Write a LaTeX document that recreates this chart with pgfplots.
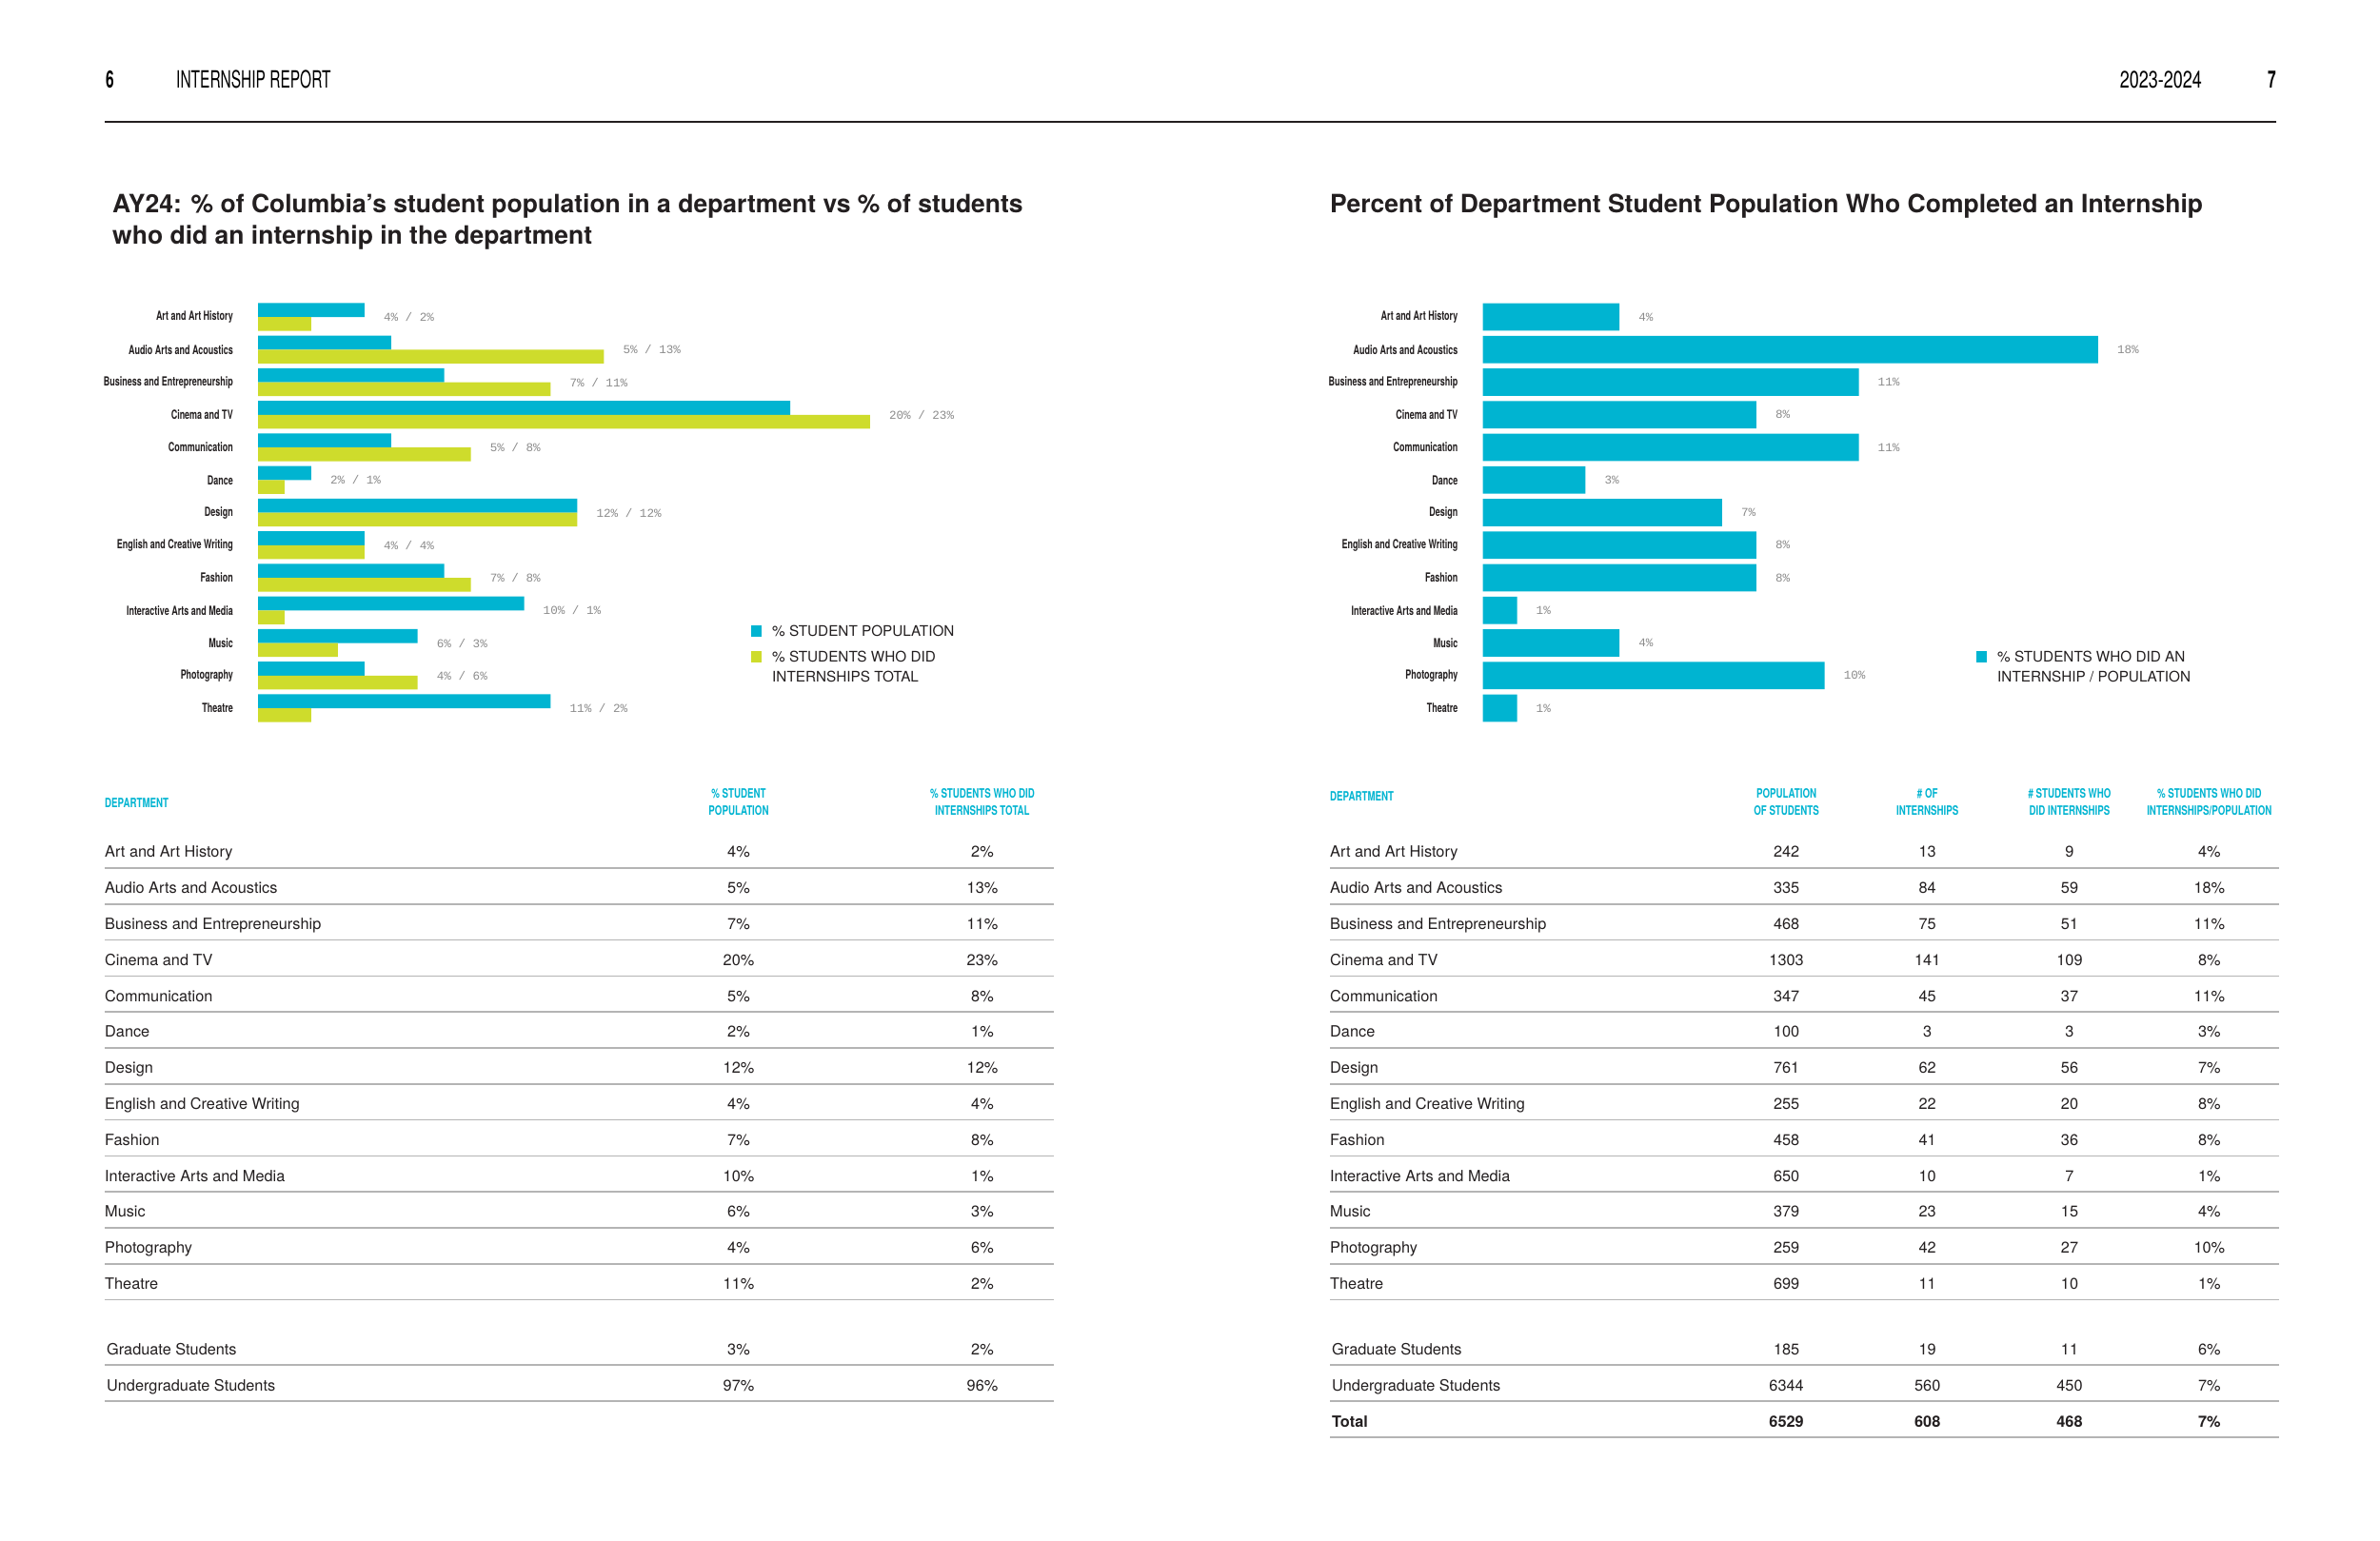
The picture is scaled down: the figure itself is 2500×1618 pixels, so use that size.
\documentclass[border=0pt]{standalone}
\usepackage{fontspec}
\setmainfont{TeX Gyre Heros}
\newfontfamily\cond{TeX Gyre Heros}[FakeStretch=0.72]
\newfontfamily\condlab{TeX Gyre Heros}[FakeStretch=0.68]
\newfontfamily\condhead{TeX Gyre Heros}[FakeStretch=0.62]
\setmonofont{Liberation Mono}
\usepackage{pgfplots}
\pgfplotsset{compat=1.18}

\definecolor{cy}{HTML}{00B4D1}
\definecolor{yg}{HTML}{CEDC2C}
\definecolor{ink}{HTML}{231F20}
\definecolor{labgray}{HTML}{8C8C8C}
\definecolor{rulegray}{HTML}{B4B4B4}

% shared look of the two bar charts
\pgfplotsset{
  deptbars/.style={
    scale only axis,
    enlargelimits=false,
    clip=false,
    xmin=0, ymin=-12.5, ymax=0.5,
    axis line style={draw=none},
    tick style={draw=none},
    xtick=\empty,
    ytick={-12,...,0},
    yticklabels={Theatre,Photography,Music,Interactive Arts and Media,Fashion,
      English and Creative Writing,Design,Dance,Communication,Cinema and TV,
      Business and Entrepreneurship,Audio Arts and Acoustics,Art and Art History},
    yticklabel style={anchor=east, inner sep=0pt, xshift=-26pt, text=ink,
      font=\condlab\bfseries\fontsize{13.2}{14}\selectfont},
  },
  vallabels/.style={
    draw=none, nodes near coords, point meta=explicit symbolic,
    nodes near coords style={anchor=west, inner sep=0pt, xshift=20pt, text=labgray,
      font=\ttfamily\fontsize{12.6}{14}\selectfont},
  },
}

\begin{document}
\begin{tikzpicture}[x=1pt, y=-1pt,
  tab/.style={inner sep=0pt, text=ink, font=\fontsize{16.3}{18}\selectfont},
  thead/.style={inner sep=0pt, text=cy, font=\cond\bfseries\fontsize{13.5}{15}\selectfont},
  rule/.style={draw=rulegray, line width=1.6pt},
  legtext/.style={inner sep=0pt, anchor=base west, text=ink, font=\fontsize{15.3}{17}\selectfont}]

\fill[white] (0,0) rectangle (2500,1618);
\path[use as bounding box] (0,0) rectangle (2500,1618);

% page header
\node[inner sep=0pt, anchor=base west, font=\condhead\bfseries\fontsize{25}{28}\selectfont] at (111,92) {6};
\node[inner sep=0pt, anchor=base west, font=\condhead\fontsize{25}{28}\selectfont] at (185,92) {INTERNSHIP REPORT};
\node[inner sep=0pt, anchor=base east, font=\cond\fontsize{25}{28}\selectfont] at (2313,92) {2023-2024};
\node[inner sep=0pt, anchor=base east, font=\condhead\bfseries\fontsize{25}{28}\selectfont] at (2391,92) {7};
\draw[line width=2.5pt, ink] (110,128) -- (2391,128);

% titles
\node[inner sep=0pt, anchor=base west, text=ink, font=\bfseries\fontsize{26.5}{30}\selectfont] at (118,223)
  {AY24: \% of Columbia's student population in a department vs \% of students};
\node[inner sep=0pt, anchor=base west, text=ink, font=\bfseries\fontsize{26.5}{30}\selectfont] at (118,256)
  {who did an internship in the department};
\node[inner sep=0pt, anchor=base west, text=ink, font=\bfseries\fontsize{26.5}{30}\selectfont] at (1397,223)
  {Percent of Department Student Population Who Completed an Internship};

% ---------------- left chart ----------------
\coordinate (LA) at (271,315.9);
\begin{axis}[deptbars, at={(LA)}, anchor=north west,
  width=698.75pt, height=445.25pt, xmax=25]
\addplot[xbar, bar width=14.7pt, bar shift=7.35pt, fill=cy, draw=none]
  coordinates {(4,0) (5,-1) (7,-2) (20,-3) (5,-4) (2,-5) (12,-6) (4,-7) (7,-8) (10,-9) (6,-10) (4,-11) (11,-12)};
\addplot[xbar, bar width=14.7pt, bar shift=-7.35pt, fill=yg, draw=none]
  coordinates {(2,0) (13,-1) (11,-2) (23,-3) (8,-4) (1,-5) (12,-6) (4,-7) (8,-8) (1,-9) (3,-10) (6,-11) (2,-12)};
\addplot[vallabels] coordinates {
  (4,0) [4\% / 2\%] (13,-1) [5\% / 13\%] (11,-2) [7\% / 11\%] (23,-3) [20\% / 23\%]
  (8,-4) [5\% / 8\%] (2,-5) [2\% / 1\%] (12,-6) [12\% / 12\%] (4,-7) [4\% / 4\%]
  (8,-8) [7\% / 8\%] (10,-9) [10\% / 1\%] (6,-10) [6\% / 3\%] (6,-11) [4\% / 6\%]
  (11,-12) [11\% / 2\%]};
\end{axis}

\fill[cy] (789,657) rectangle (800,669);
\node[legtext] at (811,668.5) {\% STUDENT POPULATION};
\fill[yg] (789,684) rectangle (800,696);
\node[legtext] at (811,695.5) {\% STUDENTS WHO DID};
\node[legtext] at (811,716.5) {INTERNSHIPS TOTAL};

% ---------------- right chart ----------------
\coordinate (RA) at (1557.6,315.9);
\begin{axis}[deptbars, at={(RA)}, anchor=north west,
  width=718pt, height=445.25pt, xmax=20]
\addplot[xbar, bar width=28.6pt, bar shift=0pt, fill=cy, draw=none]
  coordinates {(4,0) (18,-1) (11,-2) (8,-3) (11,-4) (3,-5) (7,-6) (8,-7) (8,-8) (1,-9) (4,-10) (10,-11) (1,-12)};
\addplot[vallabels] coordinates {
  (4,0) [4\%] (18,-1) [18\%] (11,-2) [11\%] (8,-3) [8\%] (11,-4) [11\%] (3,-5) [3\%]
  (7,-6) [7\%] (8,-7) [8\%] (8,-8) [8\%] (1,-9) [1\%] (4,-10) [4\%] (10,-11) [10\%]
  (1,-12) [1\%]};
\end{axis}

\fill[cy] (2075.5,684) rectangle (2086.5,696);
\node[legtext] at (2098,695.5) {\% STUDENTS WHO DID AN};
\node[legtext] at (2098,716.5) {INTERNSHIP / POPULATION};

% ---------------- left table ----------------
\node[thead, anchor=base west] at (110,848) {DEPARTMENT};
\node[thead, anchor=base] at (776,838) {\% STUDENT};
\node[thead, anchor=base] at (776,856) {POPULATION};
\node[thead, anchor=base] at (1032,838) {\% STUDENTS WHO DID};
\node[thead, anchor=base] at (1032,856) {INTERNSHIPS TOTAL};
\foreach \n/\a/\b [count=\i from 0] in {
  Art and Art History/4/2, Audio Arts and Acoustics/5/13, Business and Entrepreneurship/7/11,
  Cinema and TV/20/23, Communication/5/8, Dance/2/1, Design/12/12,
  English and Creative Writing/4/4, Fashion/7/8, Interactive Arts and Media/10/1,
  Music/6/3, Photography/4/6, Theatre/11/2}{
  \pgfmathsetmacro\yy{895+37.8*\i}
  \node[tab, anchor=base west] at (110,\yy+5.9) {\n};
  \node[tab, anchor=base] at (776,\yy+5.9) {\a\%};
  \node[tab, anchor=base] at (1032,\yy+5.9) {\b\%};
  \draw[rule] (110,\yy+17) -- (1107,\yy+17);
}
\foreach \n/\a/\b/\yy in {Graduate Students/3/2/1418, Undergraduate Students/97/96/1456}{
  \node[tab, anchor=base west] at (112,\yy+5.9) {\n};
  \node[tab, anchor=base] at (776,\yy+5.9) {\a\%};
  \node[tab, anchor=base] at (1032,\yy+5.9) {\b\%};
  \draw[rule] (110,\yy+16) -- (1107,\yy+16);
}

% ---------------- right table ----------------
\node[thead, anchor=base west] at (1397,841) {DEPARTMENT};
\foreach \x/\ta/\tb in {1876.6/POPULATION/OF STUDENTS, 2024.7/\# OF/INTERNSHIPS,
  2174/\# STUDENTS WHO/DID INTERNSHIPS, 2320.8/\% STUDENTS WHO DID/{INTERNSHIPS/POPULATION}}{
  \node[thead, anchor=base] at (\x,838) {\ta};
  \node[thead, anchor=base] at (\x,856) {\tb};
}
\foreach \n/\p/\k/\s/\r [count=\i from 0] in {
  Art and Art History/242/13/9/4, Audio Arts and Acoustics/335/84/59/18,
  Business and Entrepreneurship/468/75/51/11, Cinema and TV/1303/141/109/8,
  Communication/347/45/37/11, Dance/100/3/3/3, Design/761/62/56/7,
  English and Creative Writing/255/22/20/8, Fashion/458/41/36/8,
  Interactive Arts and Media/650/10/7/1, Music/379/23/15/4,
  Photography/259/42/27/10, Theatre/699/11/10/1}{
  \pgfmathsetmacro\yy{895+37.8*\i}
  \node[tab, anchor=base west] at (1397,\yy+5.9) {\n};
  \node[tab, anchor=base] at (1876.6,\yy+5.9) {\p};
  \node[tab, anchor=base] at (2024.7,\yy+5.9) {\k};
  \node[tab, anchor=base] at (2174,\yy+5.9) {\s};
  \node[tab, anchor=base] at (2320.8,\yy+5.9) {\r\%};
  \draw[rule] (1397,\yy+17) -- (2394,\yy+17);
}
\foreach \n/\p/\k/\s/\r/\yy in {Graduate Students/185/19/11/6/1418,
  Undergraduate Students/6344/560/450/7/1456}{
  \node[tab, anchor=base west] at (1399,\yy+5.9) {\n};
  \node[tab, anchor=base] at (1876.6,\yy+5.9) {\p};
  \node[tab, anchor=base] at (2024.7,\yy+5.9) {\k};
  \node[tab, anchor=base] at (2174,\yy+5.9) {\s};
  \node[tab, anchor=base] at (2320.8,\yy+5.9) {\r\%};
  \draw[rule] (1397,\yy+16) -- (2394,\yy+16);
}
\node[tab, anchor=base west, font=\bfseries\fontsize{16.3}{18}\selectfont] at (1399,1499.9) {Total};
\node[tab, anchor=base, font=\bfseries\fontsize{16.3}{18}\selectfont] at (1876.6,1499.9) {6529};
\node[tab, anchor=base, font=\bfseries\fontsize{16.3}{18}\selectfont] at (2024.7,1499.9) {608};
\node[tab, anchor=base, font=\bfseries\fontsize{16.3}{18}\selectfont] at (2174,1499.9) {468};
\node[tab, anchor=base, font=\bfseries\fontsize{16.3}{18}\selectfont] at (2320.8,1499.9) {7\%};
\draw[rule] (1397,1510) -- (2394,1510);

\end{tikzpicture}
\end{document}
